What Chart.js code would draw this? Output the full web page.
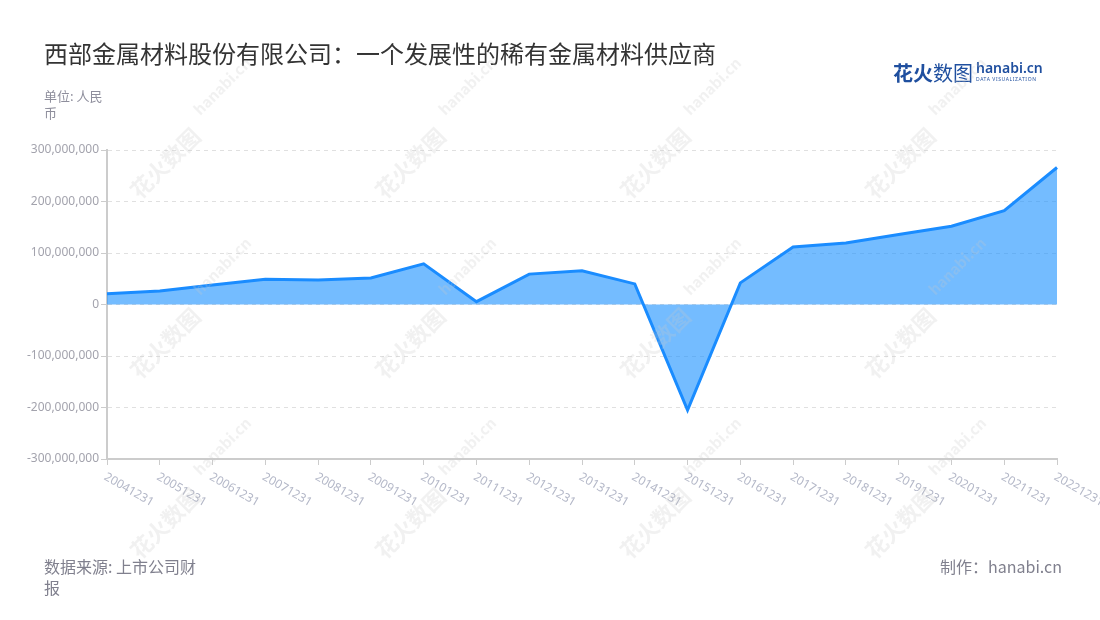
<!DOCTYPE html>
<html>
<head>
<meta charset="utf-8">
<script src="https://cdn.jsdelivr.net/npm/chart.js@4/dist/chart.umd.min.js"></script>
<style>
    body { margin: 0; background: #fff; font-family: "Noto Sans CJK SC", "Noto Sans", sans-serif; }
    #wrap { position: relative; width: 1100px; height: 620px; overflow: hidden; }
    #chart { position: absolute; left: 0; top: 0; }
    .title { position: absolute; left: 44px; top: 37px; font-size: 24px; line-height: 32px; color: #333; white-space: nowrap; }
    .unit { position: absolute; left: 44px; top: 87px; width: 68px; font-size: 13px; line-height: 17px; color: #8e8e9c; }
    .source { position: absolute; left: 44px; top: 556px; width: 162px; font-size: 16px; line-height: 21px; color: #80808e; }
    .maker { position: absolute; right: 38px; top: 556px; font-size: 16px; line-height: 21px; color: #80808e; }
    .logo { position: absolute; left: 893px; top: 58px; white-space: nowrap; }
    .logo .cn { font-size: 20px; font-weight: bold; color: #1f4f9f; vertical-align: top; }
    .logo .cn span { font-weight: normal; }
    .logo .en { display: inline-block; margin-left: 3px; vertical-align: top; color: #1f4f9f; }
    .logo .en b { display: block; font-family: "Noto Sans", sans-serif; font-weight: 600; font-size: 14px; line-height: 16px; margin-top: 2px; }
    .logo .en i { display: block; font-style: normal; font-size: 5px; line-height: 6px; letter-spacing: 0.6px; font-family: "Noto Sans", sans-serif; }
    .wm { position: absolute; color: rgba(200, 200, 200, 0.25); transform: rotate(-45deg); white-space: nowrap; pointer-events: none; font-weight: bold; }
</style>
</head>
<body>
<div id="wrap">
    <canvas id="chart" width="1100" height="620"></canvas>
    <div class="title">西部金属材料股份有限公司：一个发展性的稀有金属材料供应商</div>
    <div class="unit">单位: 人民币</div>
    <div class="logo"><span class="cn">花火<span>数图</span></span><span class="en"><b>hanabi.cn</b><i>DATA VISUALIZATION</i></span></div>
    <div class="source">数据来源: 上市公司财报</div>
    <div class="maker">制作：hanabi.cn</div>
</div>
<script>
const categories = ['20041231', '20051231', '20061231', '20071231', '20081231', '20091231', '20101231',
    '20111231', '20121231', '20131231', '20141231', '20151231', '20161231', '20171231', '20181231',
    '20191231', '20201231', '20211231', '20221231'];
const values = [21000000, 26000000, 38000000, 49000000, 47500000, 51500000, 79000000,
    5500000, 59000000, 65500000, 40000000, -205000000, 42000000, 111500000, 119500000,
    136000000, 152000000, 182000000, 266000000];
const yTicks = [-300000000, -200000000, -100000000, 0, 100000000, 200000000, 300000000];

// watermarks
const wrap = document.getElementById('wrap');
[150, 395, 640, 885].forEach(x => {
    [160, 340, 520].forEach(y => {
        const a = document.createElement('div');
        a.className = 'wm';
        a.style.left = (x - 30) + 'px';
        a.style.top = (y - 14) + 'px';
        a.style.fontSize = '22px';
        a.textContent = '花火数图';
        wrap.appendChild(a);
        const b = document.createElement('div');
        b.className = 'wm';
        b.style.left = (x + 35) + 'px';
        b.style.top = (y - 85) + 'px';
        b.style.fontSize = '15px';
        b.textContent = 'hanabi.cn';
        wrap.appendChild(b);
    });
});

// x labels drawn slanted downwards to the right
const slantLabels = {
    id: 'slantLabels',
    afterDraw(chart) {
        const xs = chart.scales.x;
        const ctx = chart.ctx;
        ctx.save();
        ctx.font = '12px "Noto Sans", sans-serif';
        ctx.fillStyle = '#b4b8c8';
        ctx.textAlign = 'left';
        ctx.textBaseline = 'middle';
        categories.forEach((label, i) => {
            const x = xs.getPixelForTick(i);
            ctx.save();
            ctx.translate(x - 2, 476);
            ctx.rotate(Math.PI / 6);
            ctx.fillText(label, 0, 0);
            ctx.restore();
        });
        ctx.restore();
    }
};

const ctx = document.getElementById('chart').getContext('2d');
new Chart(ctx, {
    type: 'line',
    data: {
        labels: categories,
        datasets: [{
            data: values,
            borderColor: '#1a8cff',
            borderWidth: 3,
            backgroundColor: 'rgba(24, 144, 255, 0.6)',
            fill: 'origin',
            pointRadius: 0,
            tension: 0
        }]
    },
    options: {
        responsive: false,
        animation: false,
        layout: { padding: { top: 150, right: 43, bottom: 0, left: 0 } },
        plugins: { legend: { display: false }, tooltip: { enabled: false } },
        scales: {
            x: {
                offset: false,
                grid: { display: true, drawOnChartArea: false, drawTicks: true, tickLength: 6, color: '#cccccc', lineWidth: 1 },
                border: { display: true, color: '#cccccc', width: 2 },
                ticks: { display: false },
                afterFit(scale) { scale.height = 161; }
            },
            y: {
                min: -300000000,
                max: 300000000,
                afterBuildTicks(scale) { scale.ticks = yTicks.map(v => ({ value: v })); },
                grid: { color: '#e0e0e0', tickColor: '#cccccc', tickLength: 6, tickBorderDash: [], drawTicks: true },
                border: { display: true, color: '#cccccc', width: 2, dash: [4, 4] },
                ticks: {
                    color: '#a3a3ad',
                    font: { size: 12, family: '"Noto Sans", sans-serif' },
                    padding: 2,
                    callback: v => v.toLocaleString('en-US')
                },
                afterFit(scale) { scale.width = 107; }
            }
        }
    },
    plugins: [slantLabels]
});
</script>
</body>
</html>
